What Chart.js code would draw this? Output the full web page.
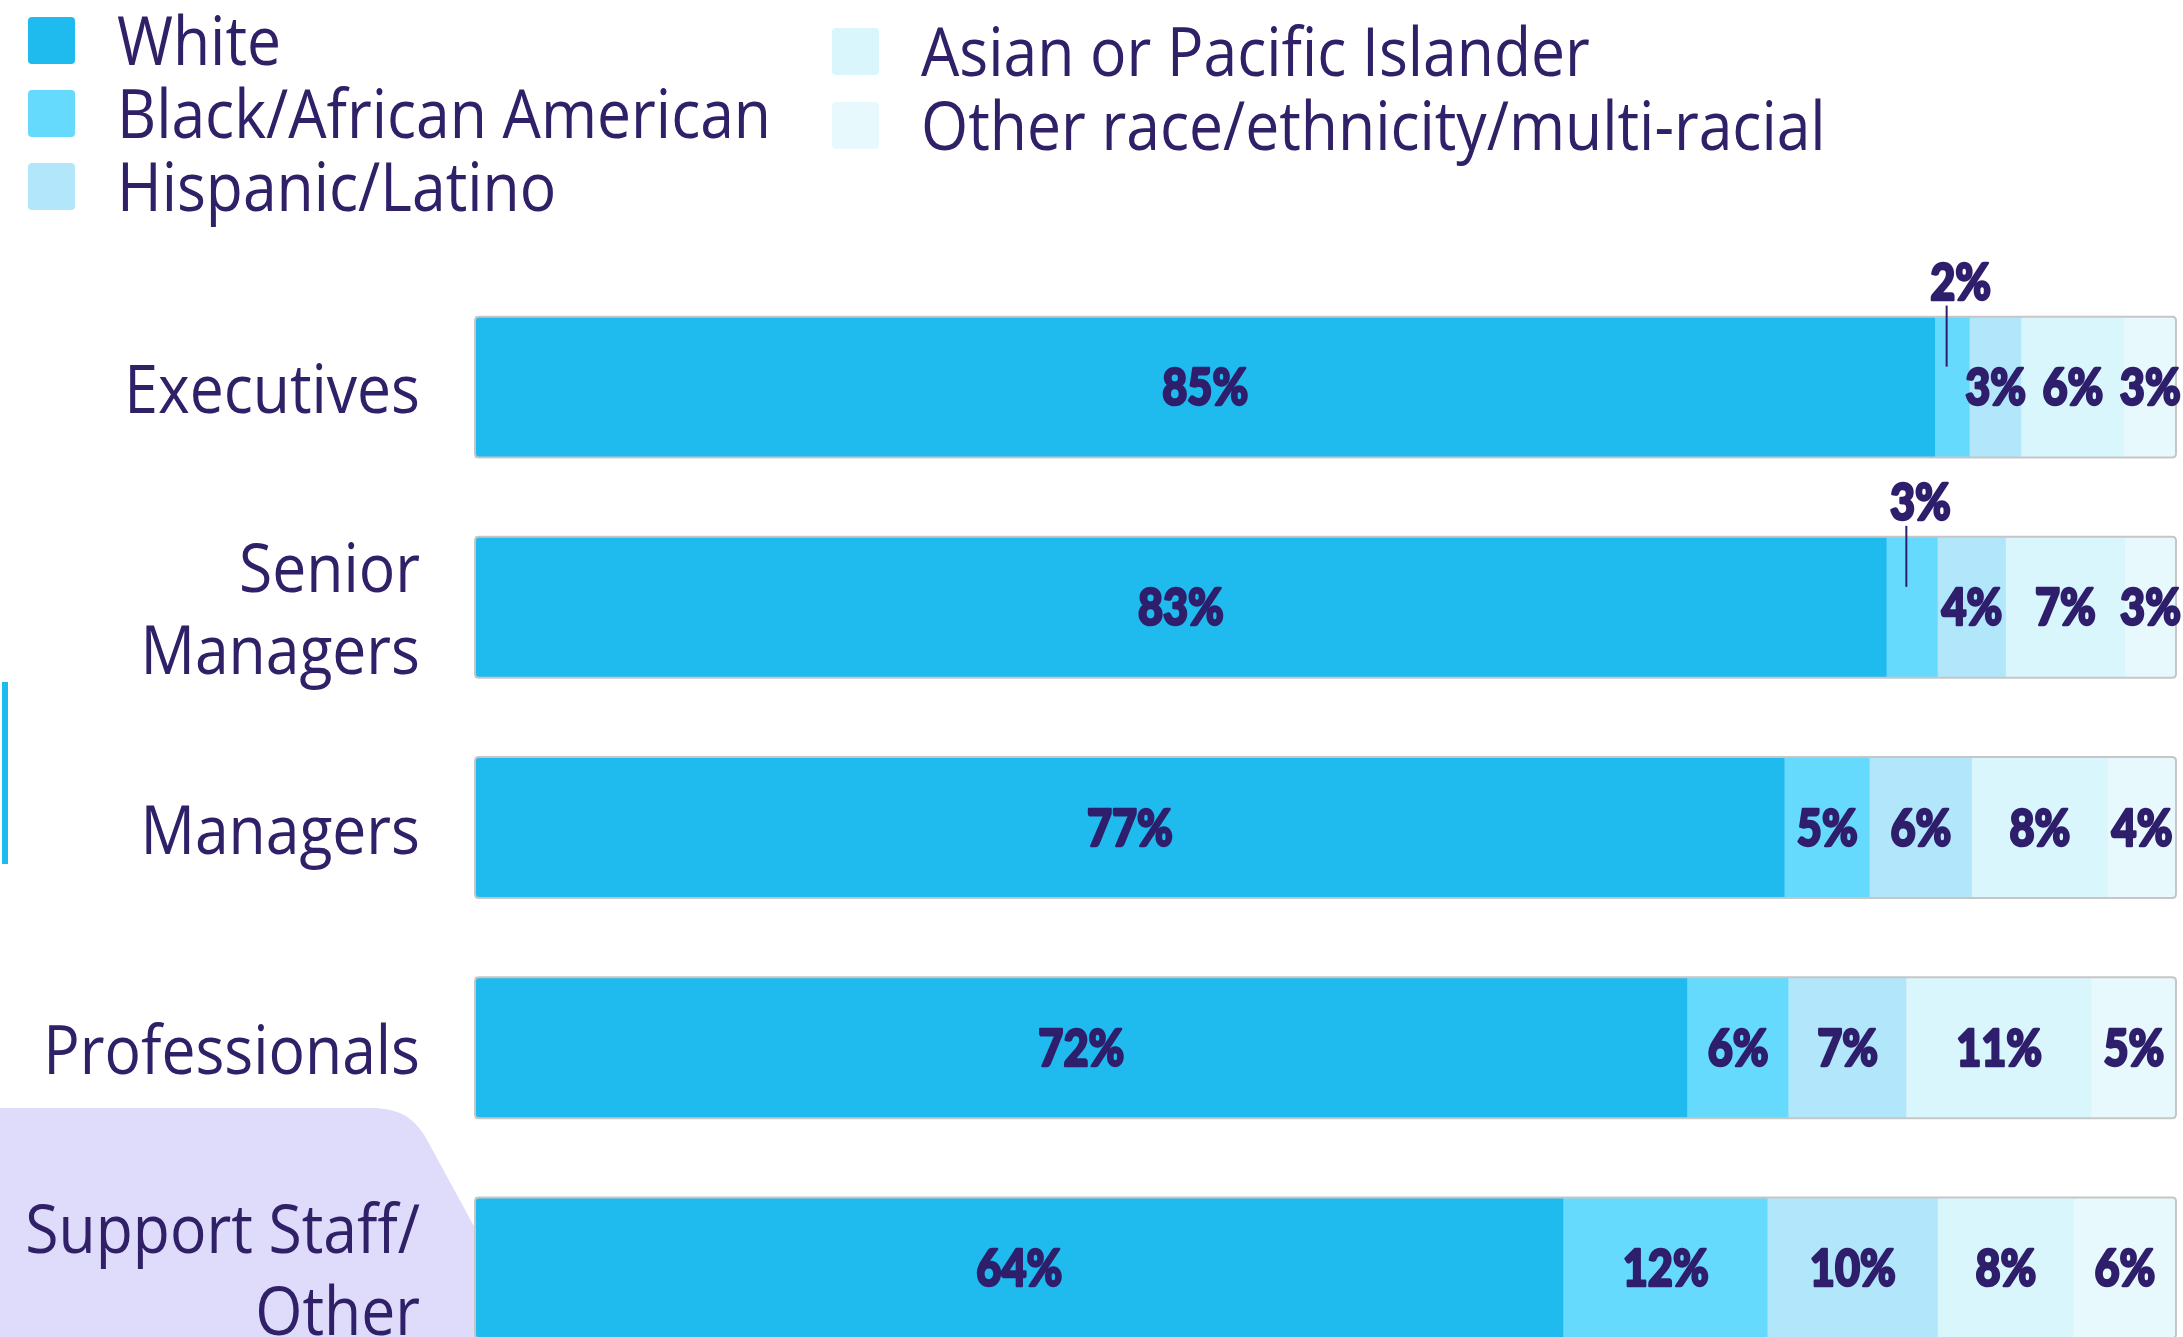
<!DOCTYPE html>
<html>
<head>
<meta charset="utf-8">
<script src="https://cdn.jsdelivr.net/npm/chart.js@4"></script>
<style>
  html, body { margin:0; padding:0; background:#ffffff; overflow:hidden; width:2183px; height:1337px; }
  canvas { display:block; }
</style>
</head>
<body>
<canvas id="c" width="2183" height="1400"></canvas>
<script>
// ---- data ----
const categories = [['Executives'], ['Senior', 'Managers'], ['Managers'], ['Professionals'], ['Support Staff/', 'Other']];
const seriesNames = ['White', 'Black/African American', 'Hispanic/Latino', 'Asian or Pacific Islander', 'Other race/ethnicity/multi-racial'];
const white    = [85, 83, 77, 72, 64];
const black    = [2, 3, 5, 6, 12];
const hispanic = [3, 4, 6, 7, 10];
const asian    = [6, 7, 8, 11, 8];
const other    = [3, 3, 4, 5, 6];
const seriesColors = ['#1fbaee', '#66dafd', '#b2e6fb', '#d8f6fc', '#e8f9fd'];
// labels drawn above the bar with a leader line: [seriesIndex, categoryIndex]
const calloutLabels = [[1, 0], [1, 1]];

const seriesValues = [white, black, hispanic, asian, other];
const rowTotals = categories.map((_, i) => seriesValues.reduce((s, arr) => s + arr[i], 0));

const TEXT_COLOR = '#2f2068';
const LABEL_COLOR = '#2e1e6b';
const SANS = '"Open Sans", "Noto Sans", sans-serif';
const BOLD = '"Lato", "Noto Sans", sans-serif';

function drawScaled(ctx, text, x, y, align, sx, strokeW) {
  ctx.save();
  ctx.translate(x, y);
  ctx.scale(sx, 1);
  ctx.textAlign = align;
  if (strokeW) {
    ctx.lineWidth = strokeW;
    ctx.lineJoin = 'round';
    ctx.strokeText(text, 0, 0);
  }
  ctx.fillText(text, 0, 0);
  ctx.restore();
}
function roundRect(ctx, x, y, w, h, r) {
  ctx.beginPath();
  ctx.moveTo(x + r, y);
  ctx.lineTo(x + w - r, y);
  ctx.quadraticCurveTo(x + w, y, x + w, y + r);
  ctx.lineTo(x + w, y + h - r);
  ctx.quadraticCurveTo(x + w, y + h, x + w - r, y + h);
  ctx.lineTo(x + r, y + h);
  ctx.quadraticCurveTo(x, y + h, x, y + h - r);
  ctx.lineTo(x, y + r);
  ctx.quadraticCurveTo(x, y, x + r, y);
  ctx.closePath();
}

const decor = {
  id: 'decor',
  beforeDraw(chart) {
    const ctx = chart.ctx;
    ctx.save();
    ctx.fillStyle = '#ffffff';
    ctx.fillRect(0, 0, chart.width, chart.height);
    // lavender shape bottom-left
    ctx.fillStyle = '#dfdbfa';
    ctx.beginPath();
    ctx.moveTo(0, 1108);
    ctx.lineTo(370, 1108);
    ctx.bezierCurveTo(400, 1108, 414, 1118, 426, 1138);
    ctx.lineTo(476, 1230);
    ctx.lineTo(476, 1400);
    ctx.lineTo(0, 1400);
    ctx.closePath();
    ctx.fill();
    // cyan accent line
    ctx.fillStyle = '#1fbaee';
    ctx.fillRect(2, 682, 6, 182);
    ctx.restore();
  },
  afterDatasetsDraw(chart) {
    const ctx = chart.ctx;
    const n = chart.data.datasets.length;
    // outline around each stacked bar
    ctx.save();
    ctx.strokeStyle = '#c6c6c6';
    ctx.lineWidth = 2;
    categories.forEach((_, i) => {
      const first = chart.getDatasetMeta(0).data[i];
      const last = chart.getDatasetMeta(n - 1).data[i];
      const h = first.height;
      roundRect(ctx, first.base, first.y - h / 2, last.x - first.base, h, 4);
      ctx.stroke();
    });
    ctx.restore();

    // value labels
    ctx.save();
    ctx.font = '900 51px ' + BOLD;
    const sxL = 86 / ctx.measureText('10%').width;
    ctx.fillStyle = LABEL_COLOR;
    ctx.strokeStyle = LABEL_COLOR;
    ctx.textBaseline = 'alphabetic';
    chart.data.datasets.forEach((ds, d) => {
      const meta = chart.getDatasetMeta(d);
      meta.data.forEach((el, i) => {
        const txt = ds.rawValues[i] + '%';
        const cx = (el.base + el.x) / 2;
        const isCallout = calloutLabels.some(c => c[0] === d && c[1] === i);
        if (isCallout) {
          const top = el.y - el.height / 2;
          ctx.lineWidth = 2;
          ctx.beginPath();
          ctx.moveTo(cx - 6, top - 11);
          ctx.lineTo(cx - 6, top + 50);
          ctx.stroke();
          drawScaled(ctx, txt, cx + 8, top - 35 + 18, 'center', sxL, 2.5);
        } else {
          drawScaled(ctx, txt, cx, el.y + 18, 'center', sxL, 2.5);
        }
      });
    });
    ctx.restore();
  },
  afterDraw(chart) {
    const ctx = chart.ctx;
    ctx.save();
    ctx.font = '400 68px ' + SANS;
    const sx = 654 / ctx.measureText('Black/African American').width;
    ctx.fillStyle = TEXT_COLOR;
    ctx.textBaseline = 'alphabetic';
    // legend (two columns)
    const legendPos = [[28, 17], [28, 90], [28, 163], [832, 28], [832, 102]];
    chart.data.datasets.forEach((ds, d) => {
      const [lx, ly] = legendPos[d];
      ctx.fillStyle = ds.backgroundColor;
      roundRect(ctx, lx, ly, 47, 47, 4);
      ctx.fill();
      ctx.fillStyle = TEXT_COLOR;
      drawScaled(ctx, ds.label, lx + 89, ly + 48, 'left', sx, 0);
    });
    // category labels
    const yScale = chart.scales.y;
    chart.data.labels.forEach((lab, i) => {
      const lines = Array.isArray(lab) ? lab : [lab];
      const cy = yScale.getPixelForValue(i);
      const lh = 82;
      lines.forEach((ln, k) => {
        const yy = cy + (k - (lines.length - 1) / 2) * lh + 26;
        drawScaled(ctx, ln, 420, yy, 'right', sx, 0);
      });
    });
    ctx.restore();
  }
};

new Chart(document.getElementById('c'), {
  type: 'bar',
  data: {
    labels: categories,
    datasets: seriesNames.map((name, s) => ({
      label: name,
      data: seriesValues[s].map((v, i) => v / rowTotals[i] * 100),
      rawValues: seriesValues[s],
      backgroundColor: seriesColors[s],
      borderWidth: 0,
      barPercentage: 0.64,
      categoryPercentage: 1.0
    }))
  },
  options: {
    indexAxis: 'y',
    responsive: false,
    animation: false,
    devicePixelRatio: 1,
    layout: { padding: { left: 475, right: 7, top: 277, bottom: 22 } },
    scales: {
      x: { stacked: true, min: 0, max: 100, display: false },
      y: { stacked: true, display: false }
    },
    plugins: { legend: { display: false }, tooltip: { enabled: false } }
  },
  plugins: [decor]
});
</script>
</body>
</html>
